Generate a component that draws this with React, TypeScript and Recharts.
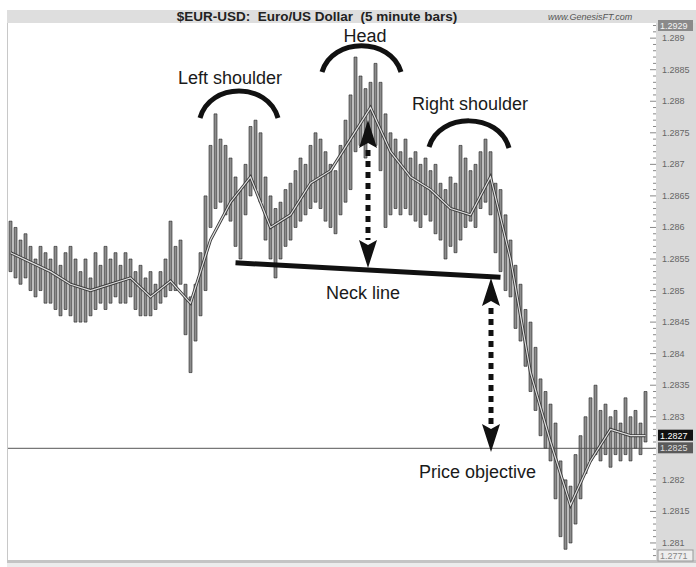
import React from "react";
import {
  ComposedChart,
  Bar,
  Line,
  XAxis,
  YAxis,
  ReferenceLine,
} from "recharts";

// ─── Data (5 minute bars) ─────────────────────────────────────────────────

const HIGHS = [
  1.2861, 1.2860, 1.2858, 1.2859, 1.2857, 1.2855, 1.2857, 1.2856, 1.2855, 1.2857,
  1.2854, 1.2856, 1.2857, 1.2855, 1.2853, 1.2855, 1.2852, 1.2856, 1.2854, 1.2857,
  1.2855, 1.2856, 1.2854, 1.2856, 1.2855, 1.2853, 1.2854, 1.2852, 1.2853, 1.2851,
  1.2853, 1.2855, 1.2861, 1.2857, 1.2858, 1.2851, 1.2849, 1.2851, 1.2856, 1.2865,
  1.2873, 1.2878, 1.2874, 1.2873, 1.2871, 1.2868, 1.2866, 1.2870, 1.2876, 1.2877,
  1.2875, 1.2868, 1.2865, 1.2863, 1.2864, 1.2866, 1.2867, 1.2869, 1.2871, 1.2870,
  1.2873, 1.2875, 1.2874, 1.2872, 1.2870, 1.2869, 1.2873, 1.2877, 1.2881, 1.2887,
  1.2884, 1.2882, 1.2883, 1.2886, 1.2883, 1.2878, 1.2875, 1.2874, 1.2872, 1.2874,
  1.2871, 1.2872, 1.2870, 1.2871, 1.2869, 1.2870, 1.2867, 1.2866, 1.2868, 1.2867,
  1.2873, 1.2871, 1.2869, 1.2870, 1.2872, 1.2874, 1.2872, 1.2867, 1.2866, 1.2862,
  1.2858, 1.2854, 1.2851, 1.2847, 1.2845, 1.2841, 1.2836, 1.2834, 1.2832, 1.2829,
  1.2823, 1.2820, 1.2819, 1.2824, 1.2827, 1.2830, 1.2833, 1.2835, 1.2831, 1.2832,
  1.2830, 1.2831, 1.2829, 1.2833, 1.2830, 1.2831, 1.2829, 1.2834,
];

const LOWS = [
  1.2853, 1.2852, 1.2851, 1.2852, 1.2850, 1.2849, 1.2850, 1.2848, 1.2848, 1.2847,
  1.2846, 1.2847, 1.2846, 1.2845, 1.2845, 1.2845, 1.2846, 1.2847, 1.2848, 1.2847,
  1.2848, 1.2849, 1.2848, 1.2848, 1.2849, 1.2847, 1.2846, 1.2846, 1.2846, 1.2847,
  1.2848, 1.2849, 1.2850, 1.2850, 1.2851, 1.2843, 1.2837, 1.2842, 1.2846, 1.2850,
  1.2860, 1.2863, 1.2864, 1.2862, 1.2861, 1.2857, 1.2855, 1.2862, 1.2865, 1.2866,
  1.2864, 1.2858, 1.2855, 1.2852, 1.2855, 1.2857, 1.2858, 1.2860, 1.2861, 1.2862,
  1.2863, 1.2864, 1.2863, 1.2861, 1.2860, 1.2859, 1.2862, 1.2864, 1.2866, 1.2872,
  1.2873, 1.2871, 1.2874, 1.2873, 1.2869, 1.2860, 1.2862, 1.2863, 1.2862, 1.2863,
  1.2862, 1.2861, 1.2860, 1.2862, 1.2861, 1.2859, 1.2858, 1.2855, 1.2857, 1.2856,
  1.2858, 1.2860, 1.2861, 1.2860, 1.2863, 1.2864, 1.2862, 1.2856, 1.2853, 1.2850,
  1.2849, 1.2844, 1.2842, 1.2838, 1.2834, 1.2831, 1.2827, 1.2825, 1.2823, 1.2817,
  1.2811, 1.2809, 1.2810, 1.2813, 1.2817, 1.2821, 1.2823, 1.2824, 1.2823, 1.2824,
  1.2822, 1.2824, 1.2823, 1.2824, 1.2823, 1.2825, 1.2824, 1.2826,
];

// moving average, read every 4th bar
const MA_IDX = [
  0, 4, 8, 12, 16, 20, 24, 28, 32, 36, 40, 44, 48, 52, 56, 60, 64,
  68, 72, 76, 80, 84, 88, 92, 96, 100, 104, 108, 112, 116, 120, 124, 127,
];
const MA_VALUES = [
  1.2856, 1.28545, 1.2853, 1.2851, 1.2850, 1.2851, 1.2852, 1.2849, 1.28515,
  1.2848, 1.2858, 1.2864, 1.2868, 1.2860, 1.2862, 1.2867, 1.2869, 1.2874,
  1.2879, 1.2872, 1.2868, 1.2866, 1.2863, 1.2862, 1.2868, 1.2855, 1.2837,
  1.2826, 1.2816, 1.2823, 1.2828, 1.2827, 1.2827,
];

const MAJOR_TICKS = [
  1.281, 1.2815, 1.282, 1.283, 1.2835, 1.284, 1.2845, 1.285,
  1.2855, 1.286, 1.2865, 1.287, 1.2875, 1.288, 1.2885, 1.289,
];

const Y_DOMAIN: [number, number] = [1.28073, 1.28924];
const TARGET = 1.2825;
const LAST_PRICE = 1.2827;
const NECK_START = { i: 45, price: 1.28544 };
const NECK_END = { i: 98, price: 1.28521 };

// ─── Layout ───────────────────────────────────────────────────────────────

const W = 696;
const H = 567;
const TOP = 23;
const BOTTOM = 560;
const PLOT_RIGHT = 656;
const FONT = "Arial, 'Liberation Sans', sans-serif";

const py = (p: number) =>
  TOP + ((Y_DOMAIN[1] - p) / (Y_DOMAIN[1] - Y_DOMAIN[0])) * (BOTTOM - TOP);

const rows = HIGHS.map((h, i) => {
  const k = MA_IDX.indexOf(i);
  return { i, high: h, low: LOWS[i], ma: k >= 0 ? MA_VALUES[k] : null };
});

const pipTicks: number[] = [];
for (let p = 12808; p <= 12892; p++) pipTicks.push(p / 10000);

function PriceTick({ x, y, payload }: any) {
  const v = payload.value as number;
  const major = MAJOR_TICKS.some((t) => Math.abs(t - v) < 1e-7);
  return (
    <g>
      <line x1={x - (major ? 6 : 3)} x2={x} y1={y} y2={y} stroke="#888" strokeWidth={1} />
      {major && (
        <text x={x + 6} y={y + 3} fontSize={9} fill="#666" fontFamily={FONT}>
          {Number(v.toFixed(4)).toString()}
        </text>
      )}
    </g>
  );
}

function Arrow({ x, top, bottom }: { x: number; top: number; bottom: number }) {
  const head = 28;
  return (
    <g fill="#111">
      <line
        x1={x} x2={x} y1={top + head + 2} y2={bottom - head}
        stroke="#111" strokeWidth={5} strokeDasharray="6 5"
      />
      <polygon points={`${x},${top} ${x - 9},${top + head} ${x},${top + head - 5} ${x + 9},${top + head}`} />
      <polygon points={`${x},${bottom} ${x - 9},${bottom - head} ${x},${bottom - head + 5} ${x + 9},${bottom - head}`} />
    </g>
  );
}

export default function App() {
  const label = (text: string, x: number, y: number, anchor = "start") => (
    <text x={x} y={y} fontSize={18} fill="#1a1a1a" fontFamily={FONT} textAnchor={anchor as any}>
      {text}
    </text>
  );
  const box = (text: string, y: number, fill: string, color: string, stroke = "none") => (
    <g>
      <rect x={658} y={y - 6} width={35} height={11} fill={fill} stroke={stroke} />
      <text x={660} y={y + 3} fontSize={9} fill={color} fontFamily={FONT}>{text}</text>
    </g>
  );

  return (
    <div style={{ position: "absolute", left: 0, top: 0, width: W, height: H, background: "#fff" }}>
      {/* frame */}
      <div style={{ position: "absolute", left: 7, top: 10, width: W - 7, height: TOP - 10, background: "#dedede" }} />
      <div style={{ position: "absolute", left: 7, top: TOP, width: 1, height: BOTTOM - TOP, background: "#c8c8c8" }} />
      <div style={{ position: "absolute", left: PLOT_RIGHT, top: TOP, width: W - PLOT_RIGHT, height: BOTTOM - TOP, background: "#dadada" }} />
      <div style={{ position: "absolute", left: 7, top: BOTTOM, width: W - 7, height: 3, background: "#c4c4c4" }} />
      <div style={{ position: "absolute", left: 7, top: BOTTOM + 3, width: W - 7, height: H - BOTTOM - 3, background: "#ececec" }} />

      <div style={{ position: "absolute", left: 0, top: 0 }}>
        <ComposedChart
          width={W}
          height={H}
          data={rows}
          margin={{ top: TOP, right: 0, bottom: H - BOTTOM, left: 8 }}
          barCategoryGap={0}
        >
          <XAxis dataKey="i" hide padding={{ left: 0, right: 8 }} />
          <YAxis
            orientation="right"
            width={W - PLOT_RIGHT}
            domain={Y_DOMAIN}
            allowDataOverflow
            ticks={pipTicks}
            interval={0}
            axisLine={false}
            tickLine={false}
            tickSize={0}
            tickMargin={0}
            tick={<PriceTick />}
          />
          <ReferenceLine y={TARGET} stroke="#555" strokeWidth={1} />
          <Bar
            dataKey={(d: any) => [d.low, d.high]}
            barSize={3}
            fill="#8c8c8c"
            stroke="#222"
            strokeWidth={0.6}
            isAnimationActive={false}
          />
          <Line
            dataKey="ma"
            connectNulls
            dot={false}
            stroke="#3a3a3a"
            strokeWidth={3}
            isAnimationActive={false}
          />
          <Line
            dataKey="ma"
            connectNulls
            dot={false}
            stroke="#e0e0e0"
            strokeWidth={1.2}
            isAnimationActive={false}
          />
          <ReferenceLine
            segment={[
              { x: NECK_START.i, y: NECK_START.price },
              { x: NECK_END.i, y: NECK_END.price },
            ]}
            stroke="#111"
            strokeWidth={5}
          />
        </ComposedChart>
      </div>

      <svg width={W} height={H} style={{ position: "absolute", left: 0, top: 0, pointerEvents: "none" }}>
        <text
          x={317} y={21} fontSize={13.5} fontWeight="bold" fill="#222" fontFamily={FONT}
          textAnchor="middle" style={{ whiteSpace: "pre" }}
        >
          {"$EUR-USD:  Euro/US Dollar  (5 minute bars)"}
        </text>
        <text x={548} y={20} fontSize={9} fontStyle="italic" fill="#555" fontFamily={FONT}>
          www.GenesisFT.com
        </text>

        <g fill="none" stroke="#111" strokeWidth={5} strokeLinecap="butt">
          <path d="M 200 118 C 210 82, 268 82, 278 118" />
          <path d="M 322 72 C 332 37, 391 37, 401 72" />
          <path d="M 429 147 C 439 112, 499 112, 509 148" />
        </g>

        <Arrow x={368} top={120} bottom={268} />
        <Arrow x={491} top={278} bottom={452} />

        {label("Head", 365, 42, "middle")}
        {label("Left shoulder", 178, 84)}
        {label("Right shoulder", 412, 110)}
        {label("Neck line", 363, 299, "middle")}
        {label("Price objective", 419, 478)}

        {box("1.2929", 26, "#8a8a8a", "#f4f4f4")}
        {box(LAST_PRICE.toFixed(4), py(LAST_PRICE), "#111", "#fff")}
        {box(TARGET.toFixed(4), py(TARGET), "#5a5a5a", "#ddd")}
        {box("1.2771", 556, "#eeeeee", "#888", "#999")}
      </svg>
    </div>
  );
}
